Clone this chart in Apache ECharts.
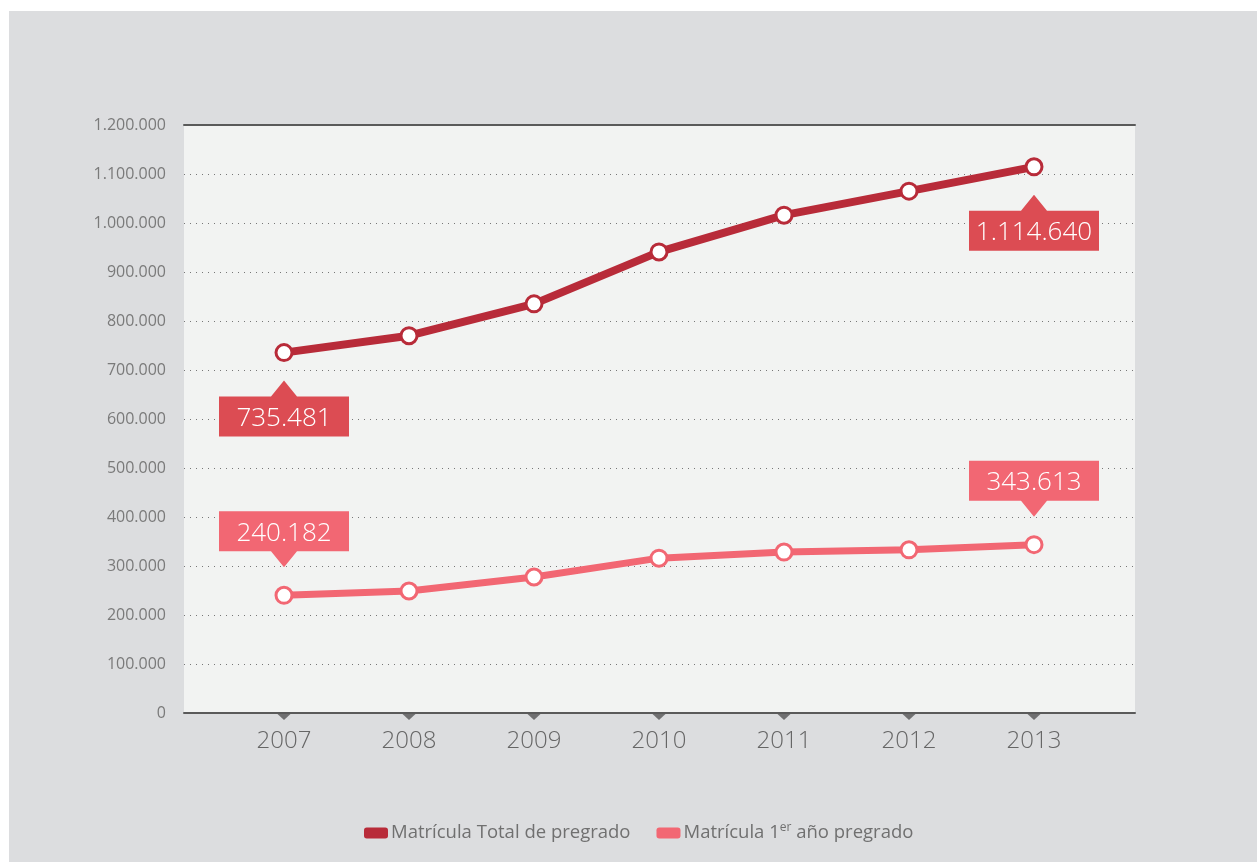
<!DOCTYPE html>
<html><head><meta charset="utf-8">
<script src="https://cdn.jsdelivr.net/npm/echarts@6/dist/echarts.min.js"></script>
<style>html,body{margin:0;padding:0;background:#fff}#c{width:1257px;height:862px}</style>
</head><body><div id="c"></div>
<script>
const years = [2007, 2008, 2009, 2010, 2011, 2012, 2013];
const totalName = 'Matrícula Total de pregrado';
const firstName = 'Matrícula 1er año pregrado';
const totalValues = [735481, 770000, 835000, 941000, 1016000, 1065000, 1114640];
const firstValues = [240182, 249000, 277500, 316000, 328500, 333000, 343613];
const yTicks = [0, 100000, 200000, 300000, 400000, 500000, 600000, 700000, 800000, 900000, 1000000, 1100000, 1200000];
const labelledIdx = [0, 6];

const C_TOTAL = '#b82b39', C_TOTAL_BOX = '#dc4c53';
const C_FIRST = '#f26773', C_FIRST_BOX = '#f26773';
const FONT = "'Open Sans', 'DejaVu Sans', sans-serif";

function fmt(v) { return String(Math.round(v)).replace(/\B(?=(\d{3})+(?!\d))/g, '.'); }

const UP = 'path://M65,0 L78,16 L130,16 L130,56 L0,56 L0,16 L52,16 Z';
const DOWN = 'path://M0,0 L130,0 L130,40 L78,40 L65,56 L52,40 L0,40 Z';

function marks(values, below, color) {
  return labelledIdx.map(i => ({
    coord: [years[i], values[i]],
    value: fmt(values[i]),
    symbol: below ? UP : DOWN,
    symbolSize: [130, 56],
    symbolOffset: [0, below ? 56 : -56],
    itemStyle: { color: color },
    label: { offset: [0, below ? 10 : -6] }
  }));
}

const chart = echarts.init(document.getElementById('c'), null, { renderer: 'canvas' });
chart.setOption({
  backgroundColor: '#ffffff',
  animation: false,
  graphic: [{
    type: 'rect', z: -100, silent: true,
    shape: { x: 9, y: 11, width: 1248, height: 851 },
    style: { fill: '#dcdddf' }
  }],
  grid: { left: 184, right: 122, top: 125, bottom: 149, show: true, backgroundColor: '#f2f3f2', borderWidth: 0 },
  xAxis: [{
    type: 'value', min: 2006.2, max: 2013.808, position: 'bottom',
    axisLine: { show: true, lineStyle: { color: '#5a5a5a', width: 2 } },
    axisTick: { show: false },
    splitLine: { show: false },
    axisLabel: { customValues: years, color: '#666', fontSize: 24, fontFamily: FONT, fontWeight: 300, margin: 16, formatter: v => String(v) }
  }, {
    type: 'value', min: 2006.2, max: 2013.808, position: 'top',
    axisLine: { show: true, lineStyle: { color: '#5a5a5a', width: 2 } },
    axisTick: { show: false }, splitLine: { show: false }, axisLabel: { show: false }
  }],
  yAxis: {
    type: 'value', min: yTicks[0], max: yTicks[yTicks.length - 1], interval: 100000,
    axisLine: { show: false }, axisTick: { show: false },
    splitLine: { show: true, lineStyle: { color: '#777', width: 1, type: [1, 5] } },
    axisLabel: { color: '#7a7a7a', fontSize: 16, fontFamily: FONT, margin: 18, formatter: v => fmt(v) }
  },
  legend: {
    left: 359, top: 817, itemWidth: 24, itemHeight: 11, itemGap: 26,
    textStyle: { color: '#707070', fontSize: 18.5, fontFamily: FONT, padding: [0, 0, 0, -2],
      rich: { a: { color: '#707070', fontSize: 18.5, fontFamily: FONT }, s: { color: '#707070', fontSize: 12, fontFamily: FONT, padding: [0, 0, 10, 0] } } },
    data: [
      { name: totalName, icon: 'roundRect', itemStyle: { color: C_TOTAL, borderWidth: 0 } },
      { name: firstName, icon: 'roundRect', itemStyle: { color: C_FIRST, borderWidth: 0 } }
    ],
    formatter: n => n === firstName ? '{a|Matrícula 1}{s|er}{a| año pregrado}' : '{a|' + n + '}'
  },
  series: [{
    name: 'ticks', type: 'scatter', silent: true, clip: false,
    data: years.map(y => [y, 0]), symbol: 'triangle', symbolRotate: 180,
    symbolSize: [13, 6], symbolOffset: [0, 4], itemStyle: { color: '#555' }, z: 1
  }, {
    name: totalName, type: 'line', color: C_TOTAL,
    data: years.map((y, i) => [y, totalValues[i]]),
    lineStyle: { color: C_TOTAL, width: 8 },
    symbol: 'circle', symbolSize: 16, showSymbol: true,
    itemStyle: { color: '#fff', borderColor: C_TOTAL, borderWidth: 3 },
    z: 3,
    markPoint: {
      silent: true,
      label: { show: true, position: 'inside', color: '#fff', fontSize: 26, fontFamily: FONT, fontWeight: 300, formatter: p => p.value },
      data: marks(totalValues, true, C_TOTAL_BOX)
    }
  }, {
    name: firstName, type: 'line', color: C_FIRST,
    data: years.map((y, i) => [y, firstValues[i]]),
    lineStyle: { color: C_FIRST, width: 7 },
    symbol: 'circle', symbolSize: 16, showSymbol: true,
    itemStyle: { color: '#fff', borderColor: C_FIRST, borderWidth: 3 },
    z: 3,
    markPoint: {
      silent: true,
      label: { show: true, position: 'inside', color: '#fff', fontSize: 26, fontFamily: FONT, fontWeight: 300, formatter: p => p.value },
      data: marks(firstValues, false, C_FIRST_BOX)
    }
  }]
});
</script></body></html>
